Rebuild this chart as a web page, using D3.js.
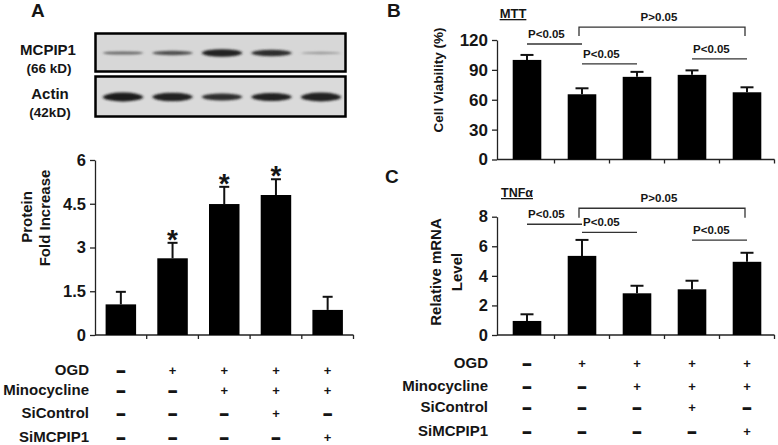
<!DOCTYPE html>
<html>
<head>
<meta charset="utf-8">
<script src="https://cdn.jsdelivr.net/npm/d3@7"></script>
<style>
  body { margin: 0; background: #fff; }
  text { font-family: "Liberation Sans", Arial, sans-serif; font-weight: bold; fill: #151515; }
</style>
</head>
<body>
<svg id="fig" width="778" height="445"></svg>
<script>

var lanes = ["ctrl", "ogd", "ogd_mino", "ogd_mino_sictrl", "ogd_mino_simcpip1"];

// panel A
var proteinFold = [1.05, 2.63, 4.49, 4.80, 0.86];
var proteinErr = [0.43, 0.53, 0.59, 0.54, 0.45];
var proteinStar = [false, true, true, true, false];
var proteinTicks = [0, 1.5, 3, 4.5, 6];
var mcpipDark = [0.55, 0.68, 0.9, 0.85, 0.3];
var mcpipThick = [1.6, 2.2, 3.8, 3.3, 1.2];
var actinDark = [0.95, 0.92, 0.85, 0.92, 0.9];
var actinThick = [4.4, 4.2, 3.4, 4.0, 4.4];

// panel B
var viability = [100, 65.5, 83, 85, 67.5];
var viabilityErr = [5, 6, 5, 4.5, 5];
var viabilityTicks = [0, 30, 60, 90, 120];

// panel C
var tnfLevel = [0.95, 5.35, 2.82, 3.09, 4.95];
var tnfErr = [0.45, 1.08, 0.51, 0.58, 0.61];
var tnfTicks = [0, 2, 4, 6, 8];

// treatment table
var treatments = ["OGD", "Minocycline", "SiControl", "SiMCPIP1"];
var signs = [
    ["-", "+", "+", "+", "+"],
    ["-", "-", "+", "+", "+"],
    ["-", "-", "-", "+", "-"],
    ["-", "-", "-", "-", "+"]
];

// significance lines (lane from, lane to, label, level in B units, level in C units)
var compFrom = [0, 1, 3];
var compTo = [1, 2, 4];
var compLabel = ["P<0.05", "P<0.05", "P<0.05"];
var compLevelB = [116, 96, 101];
var compLevelC = [7.49, 6.94, 6.42];
var brFrom = 1, brTo = 4, brLabel = "P>0.05";
var brLevelB = [133, 124];
var brLevelC = [8.57, 7.93];


var svg = d3.select("#fig");


function barChart(o){

    var g = svg.append("g");

    var x = d3.scaleBand()
        .domain(lanes)
        .range(o.xr)
        .paddingInner(o.pad)
        .paddingOuter(o.pad / 2);

    var y = d3.scaleLinear()
        .domain([0, o.ticks[o.ticks.length - 1]])
        .range(o.yr);

    // y axis
    var ya = g.append("g")
        .attr("transform", "translate(" + o.axisX + ",0)")
        .call(d3.axisLeft(y).tickValues(o.ticks).tickSize(5).tickSizeOuter(0).tickPadding(4)
            .tickFormat(function(d){ return d; }));
    ya.select(".domain").attr("stroke", "#222").attr("stroke-width", 1.3);
    ya.selectAll(".tick line").attr("stroke", "#222").attr("stroke-width", 1.3);
    ya.selectAll(".tick text")
        .attr("font-size", o.fs + "px")
        .attr("font-family", null)
        .attr("fill", "#151515");

    // x axis line with boundary ticks
    g.append("line")
        .attr("x1", o.axisX).attr("x2", o.xr[1])
        .attr("y1", o.yr[0]).attr("y2", o.yr[0])
        .attr("stroke", "#222").attr("stroke-width", 1.3);

    g.selectAll("line.xt")
        .data(d3.range(1, lanes.length + 1))
        .enter()
        .append("line")
        .attr("x1", function(i){ return o.xr[0] + i * x.step(); })
        .attr("x2", function(i){ return o.xr[0] + i * x.step(); })
        .attr("y1", o.yr[0])
        .attr("y2", o.yr[0] + 4)
        .attr("stroke", "#222").attr("stroke-width", 1.3);

    // error bars
    g.selectAll("line.err")
        .data(o.values)
        .enter()
        .append("line")
        .attr("x1", function(d, i){ return x(lanes[i]) + x.bandwidth() / 2; })
        .attr("x2", function(d, i){ return x(lanes[i]) + x.bandwidth() / 2; })
        .attr("y1", function(d){ return y(d); })
        .attr("y2", function(d, i){ return y(d + o.errs[i]); })
        .attr("stroke", "#111").attr("stroke-width", 2);

    g.selectAll("line.cap")
        .data(o.values)
        .enter()
        .append("line")
        .attr("x1", function(d, i){ return x(lanes[i]) + x.bandwidth() / 2 - o.cap / 2; })
        .attr("x2", function(d, i){ return x(lanes[i]) + x.bandwidth() / 2 + o.cap / 2; })
        .attr("y1", function(d, i){ return y(d + o.errs[i]); })
        .attr("y2", function(d, i){ return y(d + o.errs[i]); })
        .attr("stroke", "#111").attr("stroke-width", 2);

    // bars
    g.selectAll("rect")
        .data(o.values)
        .enter()
        .append("rect")
        .attr("x", function(d, i){ return x(lanes[i]); })
        .attr("y", function(d){ return y(d); })
        .attr("width", x.bandwidth())
        .attr("height", function(d){ return y(0) - y(d); })
        .attr("fill", "#000");

    return {x: x, y: y, g: g};
}


function signTable(x, labelX, rowY){
    var g = svg.append("g");
    g.selectAll("text.lab")
        .data(treatments)
        .enter()
        .append("text")
        .text(function(d){ return d; })
        .attr("x", labelX)
        .attr("y", function(d, i){ return rowY[i] + 5; })
        .attr("text-anchor", "end")
        .attr("font-size", "15px");

    signs.forEach(function(row, r){
        g.selectAll("text.s" + r)
            .data(row)
            .enter()
            .append("text")
            .text(function(d){ return d == "+" ? "+" : "\u2013"; })
            .attr("x", function(d, i){ return x(lanes[i]) + x.bandwidth() / 2; })
            .attr("y", function(d){ return rowY[r] + (d == "+" ? 5 : 6); })
            .attr("text-anchor", "middle")
            .attr("font-size", function(d){ return d == "+" ? "13px" : "15px"; })
            .attr("font-weight", "900")
            .attr("stroke", function(d){ return d == "+" ? "none" : "#151515"; })
            .attr("stroke-width", 1.1);
    });
}


function sigLines(c, levels, brLevels){
    var cx = function(i){ return c.x(lanes[i]) + c.x.bandwidth() / 2; };
    compFrom.forEach(function(f, k){
        var yy = c.y(levels[k]);
        c.g.append("line")
            .attr("x1", cx(f)).attr("x2", cx(compTo[k]))
            .attr("y1", yy).attr("y2", yy)
            .attr("stroke", "#333").attr("stroke-width", 1.3);
        c.g.append("text")
            .text(compLabel[k])
            .attr("x", cx(f) + 1)
            .attr("y", yy - 6)
            .attr("font-size", "11.5px");
    });
    var y1 = c.y(brLevels[0]), y2 = c.y(brLevels[1]);
    var x1 = cx(brFrom) - 3, x2 = cx(brTo) - 2;
    c.g.append("path")
        .attr("d", "M" + x1 + "," + y2 + "V" + y1 + "H" + x2 + "V" + y2)
        .attr("fill", "none")
        .attr("stroke", "#333").attr("stroke-width", 1.3);
    c.g.append("text")
        .text(brLabel)
        .attr("x", (x1 + x2) / 2 - 3)
        .attr("y", y1 - 6)
        .attr("text-anchor", "middle")
        .attr("font-size", "11.5px");
}


// ---------- panel A ----------
svg.append("text").text("A").attr("x", 31).attr("y", 17).attr("font-size", "19px");

var defs = svg.append("defs");
defs.append("filter").attr("id", "blur")
    .attr("x", "-30%").attr("y", "-100%").attr("width", "160%").attr("height", "300%")
    .append("feGaussianBlur").attr("stdDeviation", "1.6 1.2");

var laneX = d3.scalePoint().domain(lanes).range([123, 321]);

function blot(y0, h, dark, thick, fill){
    svg.append("rect")
        .attr("x", 95.5).attr("y", y0)
        .attr("width", 250).attr("height", h)
        .attr("fill", fill)
        .attr("stroke", "#000").attr("stroke-width", 2.5);
    svg.append("g").attr("filter", "url(#blur)")
        .selectAll("ellipse")
        .data(dark)
        .enter()
        .append("ellipse")
        .attr("cx", function(d, i){ return laneX(lanes[i]); })
        .attr("cy", y0 + h / 2 + 0.5)
        .attr("rx", 20)
        .attr("ry", function(d, i){ return thick[i]; })
        .attr("fill", function(d){ return d3.interpolateRgb("#d2d2d2", "#111")(d); });
}
blot(33.5, 38, mcpipDark, mcpipThick, "#d7d7d7");
blot(76.5, 40, actinDark, actinThick, "#dadada");

svg.append("text").text("MCPIP1").attr("x", 48).attr("y", 55).attr("text-anchor", "middle").attr("font-size", "15px");
svg.append("text").text("(66 kD)").attr("x", 49).attr("y", 73).attr("text-anchor", "middle").attr("font-size", "13.5px");
svg.append("text").text("Actin").attr("x", 50).attr("y", 99).attr("text-anchor", "middle").attr("font-size", "15px");
svg.append("text").text("(42kD)").attr("x", 50).attr("y", 117).attr("text-anchor", "middle").attr("font-size", "13.5px");

var chartA = barChart({
    xr: [95, 353.5], pad: 0.41, axisX: 95,
    yr: [335, 160], ticks: proteinTicks, values: proteinFold, errs: proteinErr,
    cap: 10, fs: 16.5
});

// significance stars over the error bars
proteinFold.forEach(function(d, i){
    if(!proteinStar[i]) return;
    chartA.g.append("text")
        .text("*")
        .attr("x", chartA.x(lanes[i]) + chartA.x.bandwidth() / 2)
        .attr("y", chartA.y(d + proteinErr[i]) + 6)
        .attr("text-anchor", "middle")
        .attr("font-size", "28px");
});

svg.append("text").text("Protein")
    .attr("transform", "translate(32,217) rotate(-90)")
    .attr("text-anchor", "middle").attr("font-size", "15px");
svg.append("text").text("Fold Increase")
    .attr("transform", "translate(50,218) rotate(-90)")
    .attr("text-anchor", "middle").attr("font-size", "15px");

signTable(chartA.x, 89, [370, 390, 412.5, 436.5]);


// ---------- panel B ----------
svg.append("text").text("B").attr("x", 387).attr("y", 17).attr("font-size", "19px");

var chartB = barChart({
    xr: [499.5, 774.5], pad: 0.48, axisX: 497,
    yr: [159.5, 40], ticks: viabilityTicks, values: viability, errs: viabilityErr,
    cap: 13, fs: 17
});
sigLines(chartB, compLevelB, brLevelB);

svg.append("text").text("MTT").attr("x", 513).attr("y", 18).attr("text-anchor", "middle")
    .attr("font-size", "13px").attr("text-decoration", "underline");
svg.append("text").text("Cell Viability (%)")
    .attr("transform", "translate(443,80) rotate(-90)")
    .attr("text-anchor", "middle").attr("font-size", "13.5px");


// ---------- panel C ----------
svg.append("text").text("C").attr("x", 385).attr("y", 183).attr("font-size", "19px");

var chartC = barChart({
    xr: [499.5, 774.5], pad: 0.48, axisX: 497,
    yr: [335, 216.7], ticks: tnfTicks, values: tnfLevel, errs: tnfErr,
    cap: 13, fs: 16.5
});
sigLines(chartC, compLevelC, brLevelC);

svg.append("text").text("TNF\u03b1").attr("x", 517).attr("y", 197).attr("text-anchor", "middle")
    .attr("font-size", "12.5px").attr("text-decoration", "underline");
svg.append("text").text("Relative mRNA")
    .attr("transform", "translate(441,272) rotate(-90)")
    .attr("text-anchor", "middle").attr("font-size", "15px");
svg.append("text").text("Level")
    .attr("transform", "translate(462,272) rotate(-90)")
    .attr("text-anchor", "middle").attr("font-size", "15px");

signTable(chartB.x, 488, [363, 386, 406.5, 430.5]);

</script>
</body>
</html>
